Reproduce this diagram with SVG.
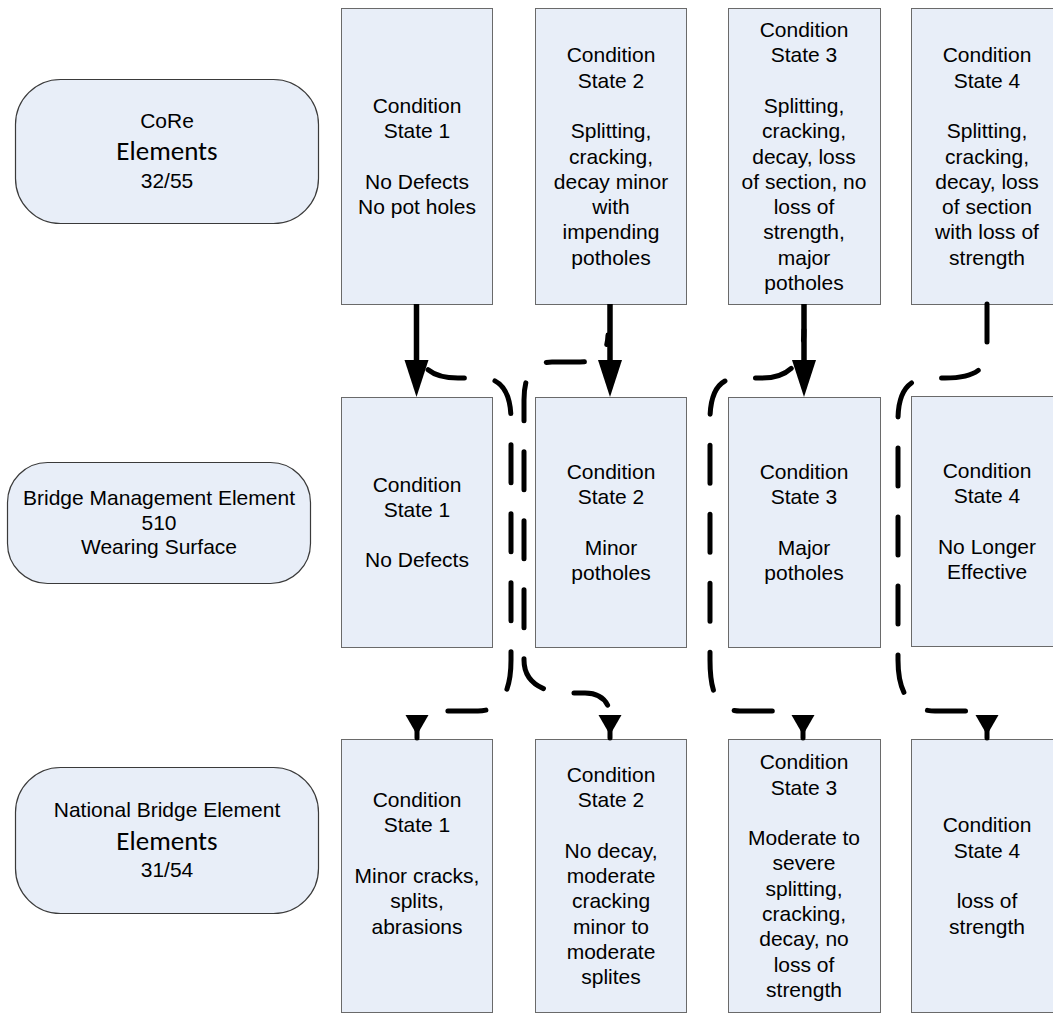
<svg xmlns="http://www.w3.org/2000/svg" xmlns:xlink="http://www.w3.org/1999/xlink" width="1053" height="1013" viewBox="0 0 1053 1013">
  <style>
    .bg { fill: #ffffff; }
    .state { fill: #e8eef8; stroke: #6a6a6a; stroke-width: 1; }
    .label { fill: #e8eef8; stroke: #3a3a3a; stroke-width: 1.2; }
    text { font-family: "Liberation Sans", Arial, sans-serif; font-size: 21px; fill: #000; text-anchor: middle; }
    .big { font-family: Carlito, Lato, "Open Sans", sans-serif; font-size: 27px; }
    .solid { fill: none; stroke: #000; stroke-width: 5.5; }
    .dash { fill: none; stroke: #000; stroke-width: 5; stroke-linecap: round; stroke-linejoin: round; stroke-dasharray: 38 31; }
    .head { fill: #000; stroke: none; }
    .stem { stroke: #000; stroke-width: 5; stroke-linecap: round; }
  </style>
  <defs>
    <marker id="arrow" markerUnits="userSpaceOnUse" markerWidth="40" markerHeight="28" viewBox="0 -14 40 28" refX="0" refY="0" orient="auto">
      <path class="head" d="M0,-12 L37,0 L0,12 Z"/>
    </marker>
    <g id="dhead">
      <path class="head" d="M-11.5,715 L11.5,715 L0,735 Z"/>
      <line class="stem" x1="0" y1="726" x2="0" y2="738"/>
    </g>
  </defs>

  <rect class="bg" x="0" y="0" width="1053" height="1013"/>

  <!-- row labels -->
  <g id="label-core">
    <rect class="label" x="15.5" y="79.5" width="303" height="144" rx="45" ry="45"/>
    <text x="167" y="128">CoRe</text>
    <text class="big" x="167" y="160">Elements</text>
    <text x="167" y="188">32/55</text>
  </g>
  <g id="label-bme">
    <rect class="label" x="7.5" y="462.5" width="303" height="121" rx="40" ry="40"/>
    <text x="159" y="505">Bridge Management Element</text>
    <text x="159" y="530">510</text>
    <text x="159" y="554">Wearing Surface</text>
  </g>
  <g id="label-nbe">
    <rect class="label" x="15.5" y="767.5" width="303" height="146" rx="45" ry="45"/>
    <text x="167" y="817">National Bridge Element</text>
    <text class="big" x="167" y="850">Elements</text>
    <text x="167" y="877">31/54</text>
  </g>

  <!-- CoRe condition states -->
  <g id="core-cs1">
    <rect class="state" x="341.5" y="8.5" width="151" height="296"/>
    <text x="417" y="113"><tspan x="417">Condition</tspan><tspan x="417" dy="25.3">State 1</tspan><tspan x="417" dy="50.6">No Defects</tspan><tspan x="417" dy="25.3">No pot holes</tspan></text>
  </g>
  <g id="core-cs2">
    <rect class="state" x="535.5" y="8.5" width="151" height="296"/>
    <text x="611" y="62.3"><tspan x="611">Condition</tspan><tspan x="611" dy="25.3">State 2</tspan><tspan x="611" dy="50.6">Splitting,</tspan><tspan x="611" dy="25.3">cracking,</tspan><tspan x="611" dy="25.3">decay minor</tspan><tspan x="611" dy="25.3">with</tspan><tspan x="611" dy="25.3">impending</tspan><tspan x="611" dy="25.3">potholes</tspan></text>
  </g>
  <g id="core-cs3">
    <rect class="state" x="728.5" y="8.5" width="152" height="296"/>
    <text x="804" y="37"><tspan x="804">Condition</tspan><tspan x="804" dy="25.3">State 3</tspan><tspan x="804" dy="50.6">Splitting,</tspan><tspan x="804" dy="25.3">cracking,</tspan><tspan x="804" dy="25.3">decay, loss</tspan><tspan x="804" dy="25.3">of section, no</tspan><tspan x="804" dy="25.3">loss of</tspan><tspan x="804" dy="25.3">strength,</tspan><tspan x="804" dy="25.3">major</tspan><tspan x="804" dy="25.3">potholes</tspan></text>
  </g>
  <g id="core-cs4">
    <rect class="state" x="911.5" y="8.5" width="152" height="296"/>
    <text x="987" y="62.3"><tspan x="987">Condition</tspan><tspan x="987" dy="25.3">State 4</tspan><tspan x="987" dy="50.6">Splitting,</tspan><tspan x="987" dy="25.3">cracking,</tspan><tspan x="987" dy="25.3">decay, loss</tspan><tspan x="987" dy="25.3">of section</tspan><tspan x="987" dy="25.3">with loss of</tspan><tspan x="987" dy="25.3">strength</tspan></text>
  </g>

  <!-- Bridge Management Element condition states -->
  <g id="bme-cs1">
    <rect class="state" x="341.5" y="397.5" width="151" height="250"/>
    <text x="417" y="491.5"><tspan x="417">Condition</tspan><tspan x="417" dy="25.3">State 1</tspan><tspan x="417" dy="50.6">No Defects</tspan></text>
  </g>
  <g id="bme-cs2">
    <rect class="state" x="535.5" y="397.5" width="151" height="250"/>
    <text x="611" y="478.9"><tspan x="611">Condition</tspan><tspan x="611" dy="25.3">State 2</tspan><tspan x="611" dy="50.6">Minor</tspan><tspan x="611" dy="25.3">potholes</tspan></text>
  </g>
  <g id="bme-cs3">
    <rect class="state" x="728.5" y="397.5" width="152" height="250"/>
    <text x="804" y="478.9"><tspan x="804">Condition</tspan><tspan x="804" dy="25.3">State 3</tspan><tspan x="804" dy="50.6">Major</tspan><tspan x="804" dy="25.3">potholes</tspan></text>
  </g>
  <g id="bme-cs4">
    <rect class="state" x="911.5" y="396.5" width="152" height="250"/>
    <text x="987" y="477.9"><tspan x="987">Condition</tspan><tspan x="987" dy="25.3">State 4</tspan><tspan x="987" dy="50.6">No Longer</tspan><tspan x="987" dy="25.3">Effective</tspan></text>
  </g>

  <!-- National Bridge Element condition states -->
  <g id="nbe-cs1">
    <rect class="state" x="341.5" y="739.5" width="151" height="273"/>
    <text x="417" y="807.1"><tspan x="417">Condition</tspan><tspan x="417" dy="25.3">State 1</tspan><tspan x="417" dy="50.6">Minor cracks,</tspan><tspan x="417" dy="25.3">splits,</tspan><tspan x="417" dy="25.3">abrasions</tspan></text>
  </g>
  <g id="nbe-cs2">
    <rect class="state" x="535.5" y="739.5" width="151" height="273"/>
    <text x="611" y="781.8"><tspan x="611">Condition</tspan><tspan x="611" dy="25.3">State 2</tspan><tspan x="611" dy="50.6">No decay,</tspan><tspan x="611" dy="25.3">moderate</tspan><tspan x="611" dy="25.3">cracking</tspan><tspan x="611" dy="25.3">minor to</tspan><tspan x="611" dy="25.3">moderate</tspan><tspan x="611" dy="25.3">splites</tspan></text>
  </g>
  <g id="nbe-cs3">
    <rect class="state" x="728.5" y="739.5" width="152" height="273"/>
    <text x="804" y="769.2"><tspan x="804">Condition</tspan><tspan x="804" dy="25.3">State 3</tspan><tspan x="804" dy="50.6">Moderate to</tspan><tspan x="804" dy="25.3">severe</tspan><tspan x="804" dy="25.3">splitting,</tspan><tspan x="804" dy="25.3">cracking,</tspan><tspan x="804" dy="25.3">decay, no</tspan><tspan x="804" dy="25.3">loss of</tspan><tspan x="804" dy="25.3">strength</tspan></text>
  </g>
  <g id="nbe-cs4">
    <rect class="state" x="911.5" y="739.5" width="152" height="273"/>
    <text x="987" y="832.4"><tspan x="987">Condition</tspan><tspan x="987" dy="25.3">State 4</tspan><tspan x="987" dy="50.6">loss of</tspan><tspan x="987" dy="25.3">strength</tspan></text>
  </g>

  <!-- connectors -->
  <g id="connectors">
    <!-- CoRe to BME: direct mapping -->
    <path class="solid" d="M416.5,304 V360" marker-end="url(#arrow)"/>
    <path class="solid" d="M610,304 V360" marker-end="url(#arrow)"/>
    <path class="solid" d="M804,304 V360" marker-end="url(#arrow)"/>

    <!-- CoRe to NBE: dashed mapping routed between the columns -->
    <path class="dash" style="stroke-dashoffset:41" d="M416.5,345 C419,370 435,378 458,378 H482 C502,378 511,394 511,420 V660 C511,690 502,711 478,711 H420"/>
    <path class="dash" style="stroke-dashoffset:28.5" d="M608,335 C607,356 598,362 580,362 H552 C532,362 524,376 524,400 V660 C524,680 540,693 568,693 H585 C600,693 610,702 610,716"/>
    <path class="dash" style="stroke-dashoffset:27.5" d="M804,330 C804,362 790,378 762,378 H738 C718,378 710,394 710,420 V660 C710,690 716,711 740,711 H800"/>
    <path class="dash" d="M987,304 V350 C987,372 970,378 945,378 H930 C908,378 898,392 898,420 V660 C898,690 908,711 935,711 H985"/>

    <use xlink:href="#dhead" x="417" y="0"/>
    <use xlink:href="#dhead" x="610" y="0"/>
    <use xlink:href="#dhead" x="803" y="0"/>
    <use xlink:href="#dhead" x="987" y="0"/>
  </g>
</svg>
